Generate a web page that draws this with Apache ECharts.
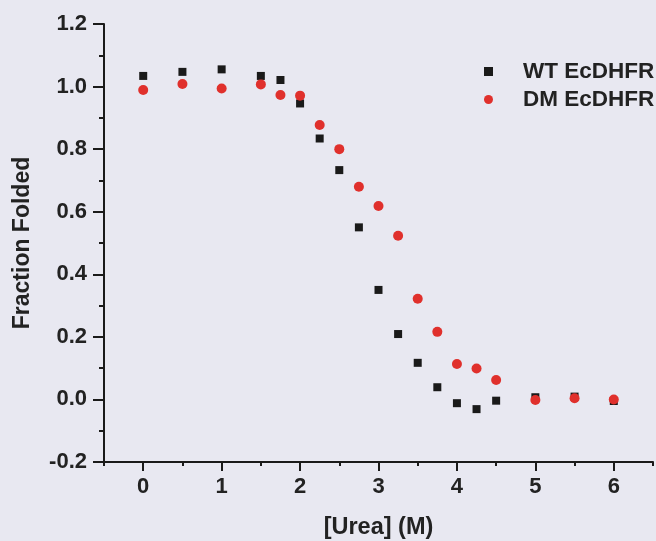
<!DOCTYPE html>
<html>
<head>
<meta charset="utf-8">
<style>
  html, body { margin: 0; padding: 0; background: #e8e8f1; }
  #chart { width: 656px; height: 541px; }
</style>
<script src="https://cdn.jsdelivr.net/npm/echarts@6/dist/echarts.min.js"></script>
</head>
<body>
<div id="chart"></div>
<script>
// Urea denaturation: fraction of folded enzyme vs urea concentration
const ureaM = [0, 0.5, 1, 1.5, 1.75, 2, 2.25, 2.5, 2.75, 3, 3.25, 3.5, 3.75, 4, 4.25, 4.5, 5, 5.5, 6];
const wtFolded = [1.034, 1.047, 1.055, 1.034, 1.021, 0.946, 0.834, 0.733, 0.550, 0.350, 0.209, 0.117, 0.039, -0.012, -0.031, -0.004, 0.007, 0.009, -0.005];
const dmFolded = [0.989, 1.008, 0.994, 1.007, 0.973, 0.971, 0.877, 0.800, 0.680, 0.618, 0.523, 0.322, 0.216, 0.113, 0.099, 0.062, -0.002, 0.004, 0.000];
const seriesNames = ['WT EcDHFR', 'DM EcDHFR'];
const xMajorTicks = [0, 1, 2, 3, 4, 5, 6];

const ink = '#1a1a1a';
const red = '#e0302c';
const textColor = '#222222';
const font = 'Liberation Sans, Arial, sans-serif';

const pairs = (ys) => ureaM.map((x, i) => [x, ys[i]]);

const chart = echarts.init(document.getElementById('chart'), null, { renderer: 'canvas' });
chart.setOption({
  backgroundColor: '#e8e8f1',
  animation: false,
  grid: { left: 104, right: 3, top: 24, bottom: 79, containLabel: false, outerBoundsMode: 'none' },
  legend: {
    orient: 'vertical',
    left: 484,
    top: 60,
    padding: 0,
    itemWidth: 9,
    itemHeight: 9,
    itemGap: 5,
    data: [
      { name: seriesNames[0], icon: 'rect', itemStyle: { color: ink, opacity: 1 } },
      { name: seriesNames[1], icon: 'circle', itemStyle: { color: red, opacity: 1 } }
    ],
    textStyle: { fontFamily: font, fontWeight: 'bold', fontSize: 22.5, color: textColor, padding: [0, 0, 0, 25] }
  },
  xAxis: [
    {
      type: 'value',
      min: -0.5, max: 6.5, interval: 0.5,
      name: '[Urea] (M)',
      nameLocation: 'middle',
      nameGap: 54,
      nameTextStyle: { fontFamily: font, fontWeight: 'bold', fontSize: 23.5, color: textColor },
      axisLine: { show: true, onZero: false, lineStyle: { color: ink, width: 2 } },
      axisTick: { show: true, customValues: xMajorTicks, length: 9, lineStyle: { color: ink, width: 2 } },
      axisLabel: {
        customValues: xMajorTicks, margin: 14,
        fontFamily: font, fontWeight: 'bold', fontSize: 22, color: textColor
      },
      splitLine: { show: false }
    },
    {
      type: 'value',
      min: -0.5, max: 6.5, interval: 0.5,
      position: 'bottom',
      axisLine: { show: false, onZero: false },
      axisTick: { show: true, length: 4, lineStyle: { color: ink, width: 2 } },
      axisLabel: { show: false },
      splitLine: { show: false }
    }
  ],
  yAxis: {
    type: 'value',
    min: -0.2, max: 1.2, interval: 0.2,
    name: 'Fraction Folded',
    nameLocation: 'middle',
    nameGap: 70,
    nameTextStyle: { fontFamily: font, fontWeight: 'bold', fontSize: 23, color: textColor },
    axisLine: { show: true, onZero: false, lineStyle: { color: ink, width: 2 } },
    axisTick: { show: true, length: 11, lineStyle: { color: ink, width: 2 } },
    minorTick: { show: true, splitNumber: 2, length: 5, lineStyle: { color: ink, width: 2 } },
    axisLabel: {
      margin: 17,
      formatter: (v) => v.toFixed(1),
      fontFamily: font, fontWeight: 'bold', fontSize: 22, color: textColor
    },
    splitLine: { show: false }
  },
  series: [
    {
      name: seriesNames[0], type: 'scatter', xAxisIndex: 0,
      symbol: 'rect', symbolSize: 8,
      itemStyle: { color: ink, opacity: 1 },
      data: pairs(wtFolded)
    },
    {
      name: seriesNames[1], type: 'scatter', xAxisIndex: 0,
      symbol: 'circle', symbolSize: 10,
      itemStyle: { color: red, opacity: 1 },
      data: pairs(dmFolded)
    }
  ]
});
</script>
</body>
</html>
